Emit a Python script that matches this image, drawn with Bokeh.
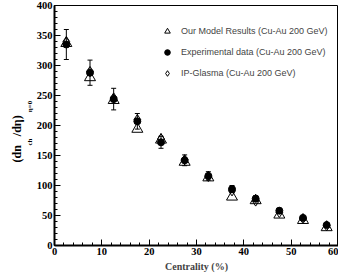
from bokeh.plotting import figure
from bokeh.models import (ColumnDataSource, Range1d, FixedTicker, Legend,
                          LegendItem, Whisker, TeeHead, Title)
from bokeh.embed import file_html
from bokeh.resources import INLINE

# ---- data ----
centrality = [2.5, 7.5, 12.5, 17.5, 22.5, 27.5, 32.5, 37.5, 42.5, 47.5, 52.5, 57.5]
exp_data = [335, 288, 244, 207, 172, 142, 116, 94, 78, 58, 46, 34]
exp_err = [25, 21, 18, 13, 10, 9, 7, 6, 5, 4, 3, 3]
model = [337, 280, 242, 194, 176, 139, 113, 81, 75, 51, 42, 30]
ip_glasma = [340, 290, 246, 210, 178, 143, 115, 91, 74, 55, 45, 33]

x_ticks = [0, 10, 20, 30, 40, 50, 60]
x_minor = list(range(0, 61, 2))
y_ticks = [0, 50, 100, 150, 200, 250, 300, 350, 400]
y_minor = list(range(0, 401, 10))

labels = ["Our Model Results (Cu-Au 200 GeV)",
          "Experimental data (Cu-Au 200 GeV)",
          "IP-Glasma (Cu-Au 200 GeV)"]

SERIF = "Liberation Serif"
SANS = "Liberation Sans"
NB = "\u00a0"

p = figure(width=338, height=277, x_range=Range1d(0, 60), y_range=Range1d(0, 400),
           output_backend="svg", toolbar_location=None,
           min_border_left=54, min_border_right=0, min_border_top=5, min_border_bottom=32)
p.xgrid.visible = False
p.ygrid.visible = False
p.outline_line_color = "black"
p.outline_line_width = 1
p.background_fill_color = "white"
p.border_fill_color = "white"

p.axis.axis_line_width = 2
p.axis.axis_line_color = "black"
p.axis.major_tick_in = 6
p.axis.major_tick_out = 0
p.axis.minor_tick_in = 3
p.axis.minor_tick_out = 0
p.axis.major_tick_line_width = 1
p.axis.minor_tick_line_width = 1
p.axis.major_label_text_font = SERIF
p.axis.major_label_text_font_style = "bold"
p.axis.major_label_text_font_size = "10.5px"
p.axis.major_label_text_color = "black"
p.axis.major_label_standoff = 2

p.xaxis.ticker = FixedTicker(ticks=x_ticks, minor_ticks=x_minor)
p.yaxis.ticker = FixedTicker(ticks=y_ticks, minor_ticks=y_minor)
p.xaxis.axis_label = "Centrality (%)"
p.xaxis.axis_label_text_font = SERIF
p.xaxis.axis_label_text_font_style = "bold"
p.xaxis.axis_label_text_font_size = "10px"
p.xaxis.axis_label_standoff = 3

src = ColumnDataSource(dict(
    x=centrality, exp=exp_data, model=model, ipg=ip_glasma,
    upper=[v + e for v, e in zip(exp_data, exp_err)],
    lower=[v - e for v, e in zip(exp_data, exp_err)],
))

r_tri = p.scatter("x", "model", source=src, marker="triangle", size=11,
                  line_color="black", line_width=1, fill_alpha=0)
r_dia = p.scatter("x", "ipg", source=src, marker="diamond", size=10,
                  line_color="black", line_width=1, fill_alpha=0)
wh = Whisker(source=src, base="x", upper="upper", lower="lower",
             line_color="black", line_width=1,
             upper_head=TeeHead(size=5, line_width=1, line_color="black"),
             lower_head=TeeHead(size=5, line_width=1, line_color="black"))
p.add_layout(wh)
r_cir = p.scatter("x", "exp", source=src, marker="circle", size=7,
                  line_color="black", fill_color="black")

legend = Legend(items=[LegendItem(label=labels[0], renderers=[r_tri]),
                       LegendItem(label=labels[1], renderers=[r_cir]),
                       LegendItem(label=labels[2], renderers=[r_dia])],
                location=(106, 162), border_line_color=None, background_fill_alpha=0,
                padding=0, spacing=1, label_height=20, glyph_height=20, glyph_width=14,
                label_standoff=7, label_text_font=SANS, label_text_font_size="9px",
                margin=0)
p.add_layout(legend)

# y-axis label: subscripts column (closer to axis) then main text column
sub_title = Title(text="ch" + NB * 15 + "η=0", align="left", offset=100, standoff=0,
                  text_font=SERIF, text_font_style="bold", text_font_size="7px",
                  text_color="black")
main_title = Title(text="(dn" + NB * 3 + "/dη)", align="left", offset=83, standoff=0,
                   text_font=SERIF, text_font_style="bold", text_font_size="12px",
                   text_color="black")
p.add_layout(sub_title, "left")
p.add_layout(main_title, "left")

open("out.html", "w").write(file_html(p, INLINE))
